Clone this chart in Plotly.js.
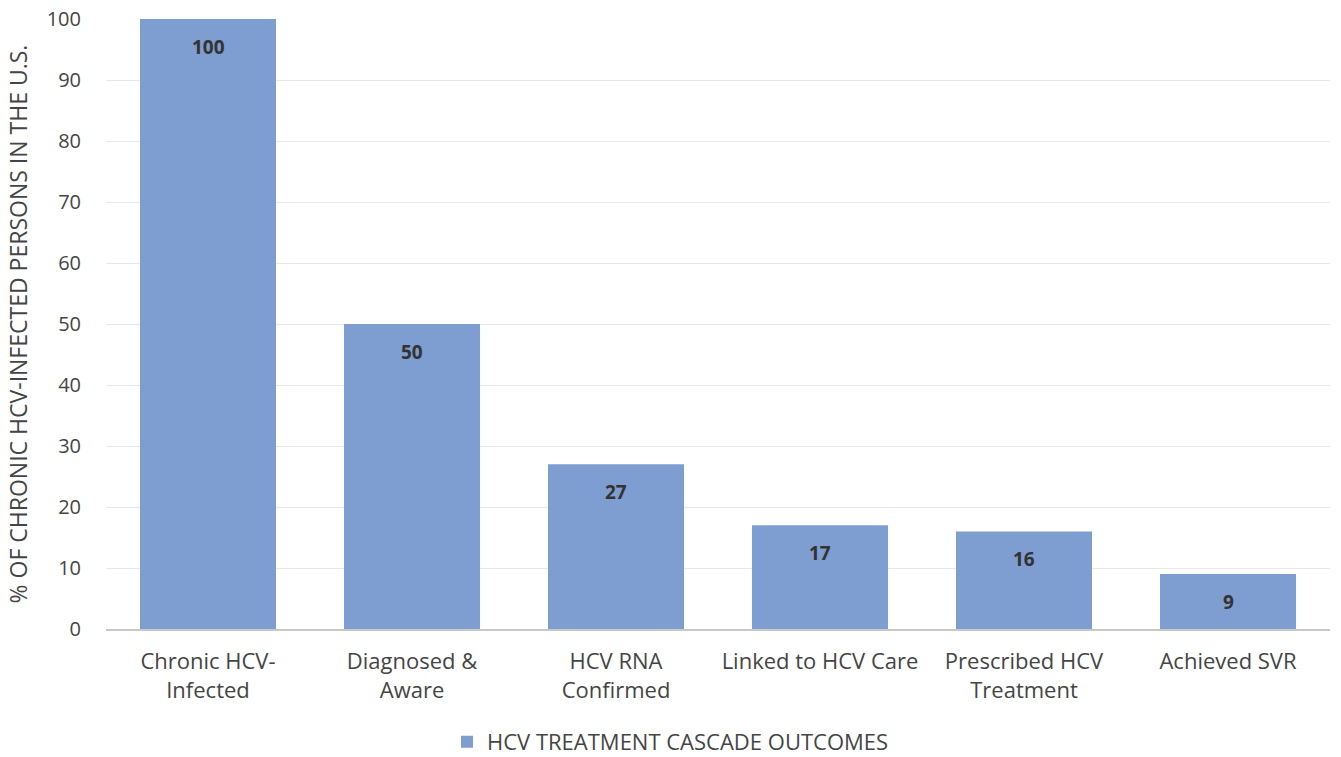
<!DOCTYPE html>
<html><head><meta charset="utf-8">
<script src="https://cdn.plot.ly/plotly-3.0.1.min.js"></script>
<style>html,body{margin:0;padding:0;background:#fff}#chart{width:1341px;height:757px}</style>
</head><body><div id="chart"></div>
<script>
const categories = ["Chronic HCV-<br>Infected","Diagnosed &<br>Aware","HCV RNA<br>Confirmed","Linked to HCV Care","Prescribed HCV<br>Treatment","Achieved SVR"];
const values = [100, 50, 27, 17, 16, 9];
const seriesName = "HCV TREATMENT CASCADE OUTCOMES";
const yTitle = "% OF CHRONIC HCV-INFECTED PERSONS IN THE U.S.";

const FONT = "'Open Sans', sans-serif";
const TXT = '#454545';
const trace = {
  type: 'bar', x: categories, y: values, name: seriesName,
  marker: {color: '#7e9dd0'}, showlegend: true, hoverinfo: 'none'
};
const annotations = values.map((v, i) => ({
  x: categories[i], y: v, xref: 'x', yref: 'y', text: '<b>' + v + '</b>',
  showarrow: false, yshift: -28, font: {family: FONT, size: 19, color: '#333'}
}));
const layout = {
  width: 1341, height: 757,
  margin: {l: 106, r: 11, t: 19, b: 128},
  paper_bgcolor: '#fff', plot_bgcolor: '#fff',
  bargap: 0.333,
  font: {family: FONT, size: 20, color: TXT},
  xaxis: {showgrid: false, showline: true, linecolor: '#c8c8c8', linewidth: 1.5,
          ticks: '', ticklabelstandoff: 12, tickfont: {family: FONT, size: 22, color: TXT}, automargin: false},
  yaxis: {range: [0, 100], dtick: 10, showgrid: true, gridcolor: '#e8e8e8', zeroline: false,
          ticks: '', ticklabelstandoff: 24, tickfont: {family: FONT, size: 20, color: TXT},
          title: {text: yTitle, font: {family: FONT, size: 23, color: TXT}, standoff: 12},
          automargin: false},
  legend: {orientation: 'h', xref: 'container', x: 0.5, xanchor: 'center',
           yref: 'container', y: 0.02, yanchor: 'middle',
           font: {family: FONT, size: 22, color: TXT}},
  annotations: annotations
};
Plotly.newPlot('chart', [trace], layout, {displayModeBar: false, staticPlot: true});
</script></body></html>
